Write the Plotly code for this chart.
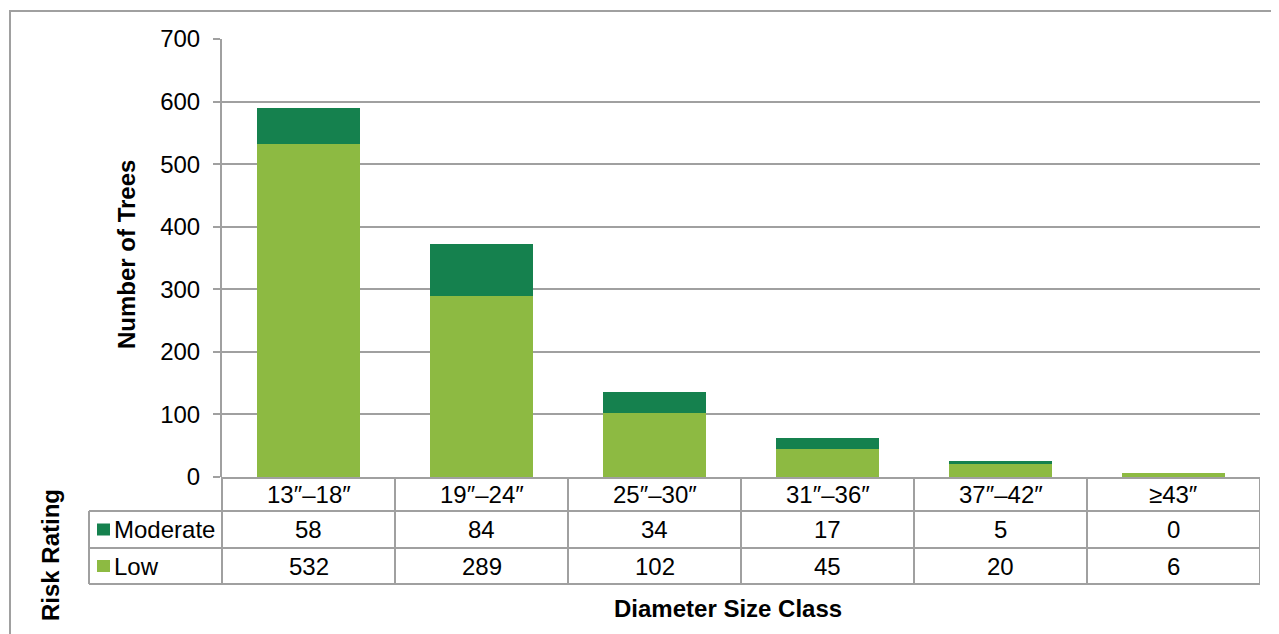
import plotly.graph_objects as go

# ---- data ----
categories = ["13\u2033\u201318\u2033", "19\u2033\u201324\u2033", "25\u2033\u201330\u2033",
              "31\u2033\u201336\u2033", "37\u2033\u201342\u2033", "\u226543\u2033"]
series_names = ["Moderate", "Low"]
moderate = [58, 84, 34, 17, 5, 0]
low = [532, 289, 102, 45, 20, 6]
y_ticks = [0, 100, 200, 300, 400, 500, 600, 700]

# ---- style ----
OFF = 8                                   # page body margin
W, H = 1279 - OFF, 634 - OFF
L, R, T, B = 222, 1260, 39, 477          # plot area in window pixels
FONT = "Liberation Sans, Arial, sans-serif"
FS = 24
GRID = "#A0A0A0"
C_MOD = "#15814E"
C_LOW = "#8DBA42"


def px(xp):
    return (xp - L) / (R - L)


def py(yp):
    return (B - yp) / (B - T)


fig = go.Figure()
fig.add_trace(go.Bar(x=categories, y=low, name=series_names[1], marker=dict(color=C_LOW, line=dict(width=0)),
                     width=0.59))
fig.add_trace(go.Bar(x=categories, y=moderate, name=series_names[0], marker=dict(color=C_MOD, line=dict(width=0)),
                     width=0.59))

shapes = []
annotations = []

# outer border
shapes.append(dict(type="rect", xref="paper", yref="paper", x0=px(10), x1=px(1300), y0=py(660), y1=py(11),
                   line=dict(color=GRID, width=2), fillcolor="rgba(0,0,0,0)", layer="below"))

# table rows (window pixel y)
y_head_top, y_row1, y_row2, y_bot = 478, 511, 548, 584
x_label_left = 89
line = dict(color=GRID, width=2)
shapes.append(dict(type="line", xref="paper", yref="paper", x0=0, x1=1, y0=py(y_head_top), y1=py(y_head_top), line=line))
for yy in (y_row1, y_row2, y_bot):
    shapes.append(dict(type="line", xref="paper", yref="paper", x0=px(x_label_left), x1=1, y0=py(yy), y1=py(yy), line=line))
shapes.append(dict(type="line", xref="paper", yref="paper", x0=px(x_label_left), x1=px(x_label_left),
                   y0=py(y_row1), y1=py(y_bot), line=line))
for i in range(len(categories) + 1):
    shapes.append(dict(type="line", xref="x", yref="paper", x0=i - 0.5, x1=i - 0.5,
                       y0=py(y_head_top), y1=py(y_bot), line=line))

# header labels and values
row_centers = [(y_head_top + y_row1) / 2, (y_row1 + y_row2) / 2, (y_row2 + y_bot) / 2]
for i, c in enumerate(categories):
    annotations.append(dict(x=c, xref="x", y=py(row_centers[0]), yref="paper", text=c, showarrow=False,
                            xanchor="center", yanchor="middle", font=dict(size=FS)))
    annotations.append(dict(x=c, xref="x", y=py(row_centers[1]), yref="paper", text=str(moderate[i]),
                            showarrow=False, xanchor="center", yanchor="middle", font=dict(size=FS)))
    annotations.append(dict(x=c, xref="x", y=py(row_centers[2]), yref="paper", text=str(low[i]),
                            showarrow=False, xanchor="center", yanchor="middle", font=dict(size=FS)))

# legend keys in the table
for name, col, yc in ((series_names[0], C_MOD, row_centers[1]), (series_names[1], C_LOW, row_centers[2])):
    shapes.append(dict(type="rect", xref="paper", yref="paper", x0=px(97), x1=px(110),
                       y0=py(yc + 6), y1=py(yc - 6), fillcolor=col, line=dict(width=0)))
    annotations.append(dict(x=px(112), xref="paper", y=py(yc), yref="paper", text=name, showarrow=False,
                            xanchor="left", yanchor="middle", font=dict(size=FS)))

# titles
annotations.append(dict(x=px(126), y=py(255), xref="paper", yref="paper", text="<b>Number of Trees</b>",
                        textangle=-90, showarrow=False, xanchor="center", yanchor="middle", font=dict(size=FS)))
annotations.append(dict(x=px(50), y=py(555), xref="paper", yref="paper", text="<b>Risk Rating</b>",
                        textangle=-90, showarrow=False, xanchor="center", yanchor="middle", font=dict(size=FS)))
annotations.append(dict(x=px(728), y=py(608), xref="paper", yref="paper", text="<b>Diameter Size Class</b>",
                        showarrow=False, xanchor="center", yanchor="middle", font=dict(size=FS)))

# y-axis line extension down through the table
shapes.append(dict(type="line", xref="paper", yref="paper", x0=0, x1=0, y0=py(B), y1=py(y_bot), line=line))

fig.update_layout(
    width=W, height=H,
    margin=dict(l=L - OFF, r=W - (R - OFF), t=T - OFF, b=H - (B - OFF), pad=0),
    barmode="stack",
    showlegend=False,
    plot_bgcolor="white", paper_bgcolor="white",
    font=dict(family=FONT, size=FS, color="black"),
    shapes=shapes,
    annotations=annotations,
    xaxis=dict(range=[-0.5, len(categories) - 0.5], showticklabels=False, showgrid=False,
               zeroline=False, showline=False, ticks=""),
    yaxis=dict(range=[0, 700], tickvals=y_ticks, showgrid=True, gridcolor=GRID, gridwidth=2,
               zeroline=False, showline=True, linecolor=GRID, linewidth=2,
               ticks="outside", ticklen=7, tickcolor=GRID, tickwidth=2,
               tickfont=dict(size=FS), ticklabelstandoff=8),
    bargap=0.41,
)

fig.write_html("out.html")
